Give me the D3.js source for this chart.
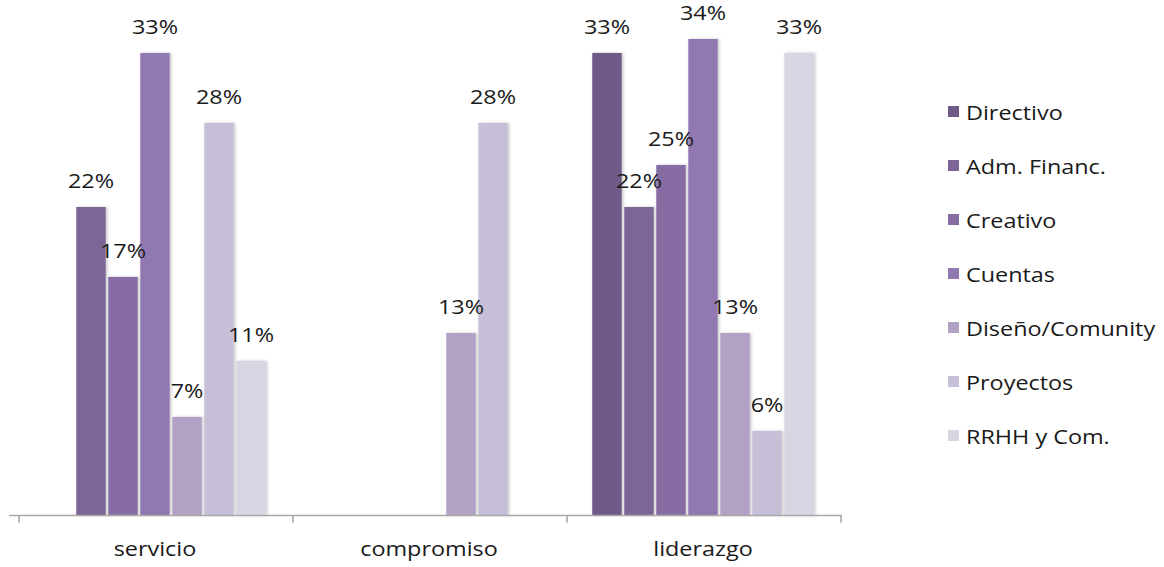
<!DOCTYPE html>
<html>
<head>
<meta charset="utf-8">
<script src="https://cdn.jsdelivr.net/npm/d3@7/dist/d3.min.js"></script>
<style>
  html, body { margin: 0; padding: 0; background: #ffffff; }
  svg { display: block; }
  text { font-family: "Open Sans", "Noto Sans", sans-serif; fill: #1a1a1a; font-weight: 500; }
</style>
</head>
<body>
<svg id="chart" width="1164" height="567"></svg>
<script>
// Categories on the x axis
const categories = ["servicio", "compromiso", "liderazgo"];

// Series (areas) shown in the legend
const seriesNames = ["Directivo", "Adm. Financ.", "Creativo", "Cuentas", "Diseño/Comunity", "Proyectos", "RRHH y Com."];

// Percentages per series, one value per category (null = no bar)
const directivo   = [null, null, 33];
const admFinanc   = [22, null, 22];
const creativo    = [17, null, 25];
const cuentas     = [33, null, 34];
const disenoCom   = [7, 13, 13];
const proyectos   = [28, 28, 6];
const rrhhCom     = [11, null, 33];

const seriesValues = [directivo, admFinanc, creativo, cuentas, disenoCom, proyectos, rrhhCom];

const colors = ["#6f5a88", "#7d6598", "#876ca4", "#9278b0", "#b0a1c5", "#c7bed7", "#d9d5e3"];

const svg = d3.select("#chart");
const textScaleX = 1.2;
const fontSize = 19.5;

const x0 = d3.scaleBand().domain(categories).range([18, 840]).padding(0);
const x1 = d3.scaleBand().domain(seriesNames).range([0, x0.bandwidth()])
  .paddingInner(0.08).paddingOuter(0.82);
const y = d3.scaleLinear().domain([0, 36]).range([515, 515 - 36 * 14]);

// soft shadow behind the bars
const defs = svg.append("defs");
const f = defs.append("filter").attr("id", "barShadow")
  .attr("x", "-30%").attr("y", "-10%").attr("width", "160%").attr("height", "120%");
f.append("feDropShadow").attr("dx", 1.5).attr("dy", 0).attr("stdDeviation", 1.6)
  .attr("flood-color", "#000").attr("flood-opacity", 0.22);

const rows = [];
categories.forEach((c, ci) => {
  seriesNames.forEach((s, si) => {
    const v = seriesValues[si][ci];
    if (v != null) rows.push({ cat: c, series: s, si, value: v });
  });
});

const groups = svg.append("g");
groups.selectAll("rect.bar").data(rows).join("rect")
  .attr("class", "bar")
  .attr("x", d => x0(d.cat) + x1(d.series))
  .attr("y", d => y(d.value))
  .attr("width", x1.bandwidth())
  .attr("height", d => y(0) - y(d.value))
  .attr("fill", d => colors[d.si])
  .attr("filter", "url(#barShadow)");

// x axis
const axis = d3.axisBottom(x0).tickSize(0).tickPadding(0).tickFormat("");
const axisG = svg.append("g").attr("transform", `translate(0,${y(0) + 0.5})`).call(axis);
axisG.select(".domain").attr("d", "M9,0H842").attr("stroke", "#a8a8a8").attr("stroke-width", 1.6);
const edges = categories.map(c => x0(c)).concat([x0(categories[categories.length - 1]) + x0.bandwidth()]);
axisG.selectAll("line.edge").data(edges).join("line")
  .attr("class", "edge")
  .attr("x1", d => d + 1).attr("x2", d => d + 1)
  .attr("y1", 0).attr("y2", 7)
  .attr("stroke", "#a8a8a8").attr("stroke-width", 1.6);

// category labels
svg.append("g").selectAll("text").data(categories).join("text")
  .attr("transform", d => `translate(${x0(d) + x0.bandwidth() / 2},556) scale(${textScaleX},1)`)
  .attr("text-anchor", "middle")
  .attr("font-size", fontSize)
  .text(d => d);

// value labels
svg.append("g").selectAll("text").data(rows).join("text")
  .attr("transform", d => `translate(${x0(d.cat) + x1(d.series) + x1.bandwidth() / 2},${y(d.value) - 19}) scale(${textScaleX},1)`)
  .attr("text-anchor", "middle")
  .attr("font-size", fontSize)
  .text(d => d.value + "%");

// legend
const legend = svg.append("g");
const item = legend.selectAll("g").data(seriesNames).join("g")
  .attr("transform", (d, i) => `translate(948,${120 + i * 54})`);
item.append("rect")
  .attr("x", 0).attr("y", -14).attr("width", 11).attr("height", 11)
  .attr("fill", (d, i) => colors[i]);
item.append("text")
  .attr("transform", `translate(18,0) scale(${textScaleX},1)`)
  .attr("font-size", fontSize)
  .text(d => d);
</script>
</body>
</html>
